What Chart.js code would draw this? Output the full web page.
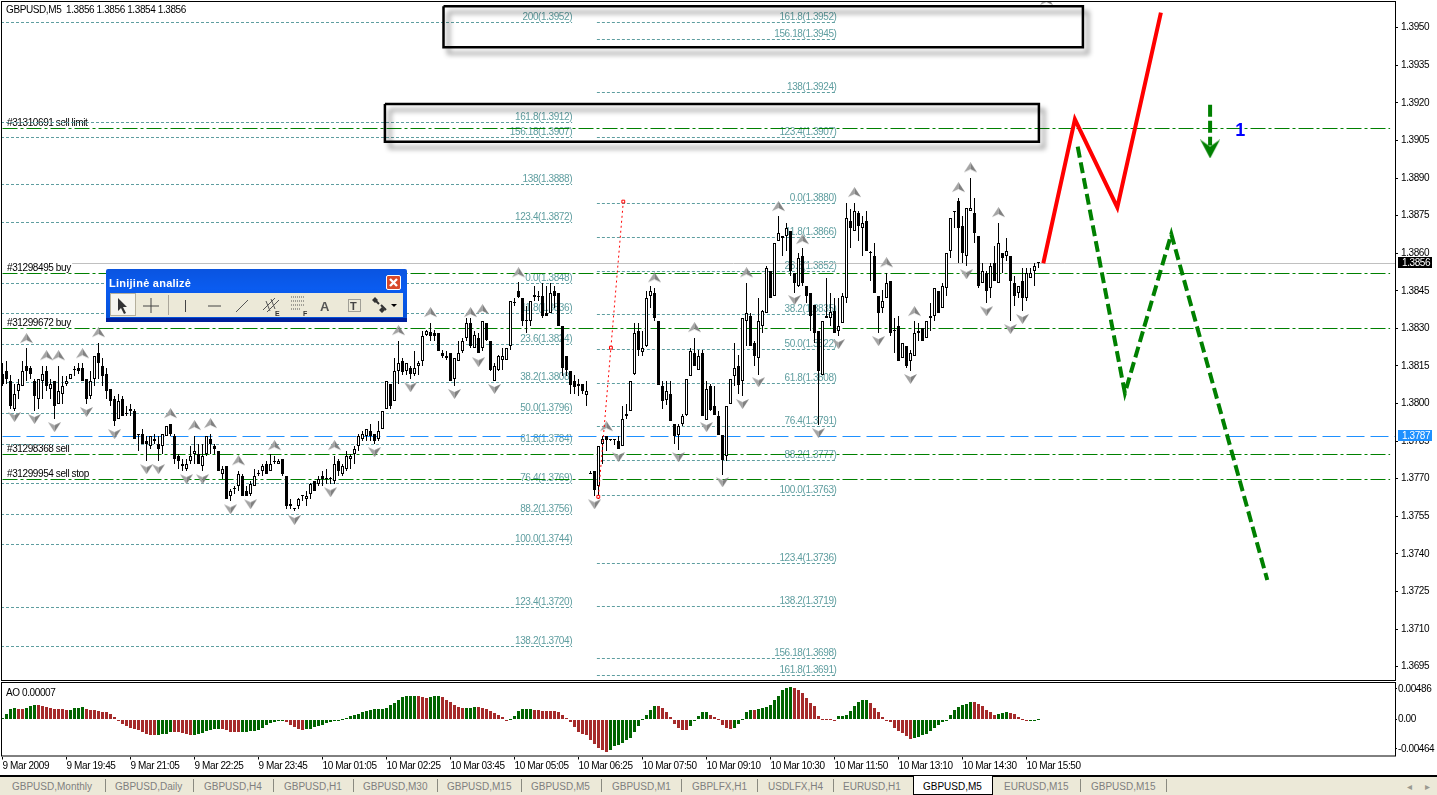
<!DOCTYPE html>
<html>
<head>
<meta charset="utf-8">
<title>GBPUSD,M5</title>
<script src="https://cdn.jsdelivr.net/npm/chart.js@4/dist/chart.umd.js"></script>
<style>
  html, body { margin: 0; padding: 0; background: #fff; overflow: hidden; }
  canvas { position: absolute; left: 0; }
  #main { top: 0; }
  #ao { top: 682px; }
  #tabs { position: absolute; left: 0; top: 775px; width: 1437px; height: 20px; background: #ece9d8; border-top: 2px solid #000; box-sizing: border-box; font: 10px "Liberation Sans", sans-serif; color: #7f7f7f; }
  #tabs span { position: absolute; top: 2px; line-height: 15px; white-space: nowrap; }
  #tabs i { position: absolute; top: 2px; width: 1px; height: 13px; background: #8a8a80; }
  #tabs b { position: absolute; left: 913px; top: -1px; width: 80px; height: 19px; background: #fff; border: 1px solid #000; border-top: 0; box-sizing: border-box; }
  #tabs span.on { color: #000; }
  #tool { position: absolute; left: 106px; top: 269px; width: 301px; height: 53px; box-sizing: border-box; border-radius: 2px 2px 0 0; background: linear-gradient(#0a54e0, #0a5cf0 40%, #0450d8 100%); border-bottom: 4px solid #00209c; }
  #tool .t { position: absolute; left: 3px; top: 8px; color: #fff; font: bold 11px "Liberation Sans", sans-serif; letter-spacing: .25px; }
  #tool .x { position: absolute; left: 280px; top: 6px; width: 15px; height: 15px; box-sizing: border-box; background: #d8492a; border: 1px solid #fff; border-radius: 2px; }
  #tool svg { position: absolute; left: 4px; top: 24px; width: 293px; height: 24px; background: #ece9d8; }
</style>
</head>
<body>
<canvas id="main" width="1437" height="681"></canvas>
<canvas id="ao" width="1437" height="93"></canvas>
<div id="tool">
  <div class="t">Linijinė analizė</div>
  <div class="x"><svg style="left:1px;top:1px;width:11px;height:11px;background:none" viewBox="0 0 11 11"><path d="M2 2L9 9M9 2L2 9" stroke="#fff" stroke-width="2.4"/></svg></div>
  <svg viewBox="0 0 293 24">
    <rect x="0.5" y="0.5" width="25" height="22" fill="#f6f5ee" stroke="#b5b09c"/>
    <path d="M8 5l0 13 3-3 3 6 2-1-3-6 4 0z" fill="#333"/>
    <path d="M41 5v15M33 13h16" stroke="#444" fill="none"/>
    <path d="M58.5 2v20" stroke="#aaa69a"/>
    <path d="M75.5 7v12" stroke="#444"/>
    <path d="M98 13h13" stroke="#444"/>
    <path d="M126 19l12-12" stroke="#555"/>
    <path d="M153 17l12-12M157 19l12-12M156 8l4 10M161 6l4 10" stroke="#555" fill="none"/>
    <text x="165" y="23" font-family="Liberation Sans" font-size="7" font-weight="bold" fill="#333">E</text>
    <path d="M181 4h13M181 8h13M181 12h13M181 16h9" stroke="#555" stroke-dasharray="1 1"/>
    <text x="193" y="23" font-family="Liberation Sans" font-size="7" font-weight="bold" fill="#333">F</text>
    <text x="210" y="18" font-family="Liberation Sans" font-size="13" font-weight="bold" fill="#555">A</text>
    <rect x="238.5" y="6.5" width="12" height="12" fill="none" stroke="#555" stroke-dasharray="1 1"/>
    <text x="240" y="17" font-family="Liberation Sans" font-size="11" font-weight="bold" fill="#444">T</text>
    <path d="M264 6l5 5M271 12l5 5" stroke="#333" stroke-width="2"/><path d="M265 4l3 3-3 3-3-3zM272 14l3 3-3 3-3-3z" fill="#333"/>
    <path d="M281 11h6l-3 3z" fill="#000"/>
  </svg>
</div>
<div id="tabs"><b></b></div>
<script>
// prices are stored as pips, price = 1 + v / 10000
const opens = [
  3812,3813,3809,3798,3805,3807,3815,3814,3809,3802,
  3809,3813,3806,3809,3800,3804,3808,3810,3813.5,3814,
  3814,3810,3803,3810,3820,3815,3812,3806,3802,3794,
  3802,3796,3797,3797,3787.5,3788,3785,3783,3786,3784,
  3783,3787,3792,3787,3779,3776,3774,3777,3780,3780,
  3775,3780,3786,3783,3781,3772,3775,3763,3766,3767,
  3771,3765,3764,3767,3772,3773,3776,3773,3776.5,3776,
  3778,3771,3760,3758,3759,3763,3762,3764,3769,3768,
  3771,3770,3770,3769,3777,3772,3774,3778,3780,3783,
  3786,3787,3789,3788,3786,3790,3798,3808,3801,3813,
  3817,3813,3814,3812,3815,3817,3827.5,3828.5,3828,3828,
  3820,3818,3820,3810,3817,3821,3826,3832,3822,3826,
  3822,3832,3825,3809,3813.5,3817.5,3817.5,3823,3840,3845,
  3842,3833,3833,3842.5,3842.5,3843,3836,3836,3845,3844,
  3831,3819,3813,3809,3808,3808,3803.5,3772,3773,3767,
  3784,3787,3786,3785.5,3785,3783,3795,3797,3812,3829,
  3820.5,3823,3843,3844,3833,3807,3801.5,3804,3792,3787.5,
  3792,3795.5,3811,3820,3813.5,3820,3793.5,3807,3799,3795,
  3787.5,3779,3800,3811,3815,3809,3833,3835,3824,3818,
  3831,3836,3853,3843,3865,3867,3867,3869,3852,3847,
  3859,3847,3844,3839.5,3829,3811.5,3834,3834,3837,3829,
  3832,3842,3873,3869,3876,3870,3873,3860,3859,3843,
  3838,3842,3849,3829,3831,3818,3823,3817,3819,3829,
  3830,3826,3835,3835,3845,3838,3846,3861,3876.5,3881,
  3871,3859,3877,3876,3867,3848,3852,3846,3856,3848,
  3860,3859,3859,3848,3844,3849,3842,3850,3853,3856
];
const highs = [
  3816,3817,3811.5,3808,3810,3817,3822,3815,3810,3810,
  3815,3815,3810,3809,3815,3811,3811,3812,3815,3816,
  3816,3810,3813,3819,3824,3818,3814,3806,3803,3804,
  3803,3799,3800,3798,3788,3790,3787,3787,3788,3787,
  3788,3791,3792,3788,3780,3778,3778,3783,3787,3784,
  3784,3787,3788,3784,3781,3775,3775,3766,3767,3773,
  3772,3767,3769,3774,3773.5,3776,3777,3780,3779,3778,
  3778,3771,3762,3758.5,3762.5,3763.5,3765,3768.5,3769,3771,
  3773,3774,3770.5,3779,3778,3776,3781,3780,3783,3788,
  3789,3790,3792,3788,3793,3797,3809,3808,3818,3825,
  3818,3816,3815,3821,3817,3829,3829.5,3832,3829.5,3828,
  3821.5,3821,3820,3818,3825,3826,3834,3834,3829,3828,
  3833,3832,3825,3816,3819.5,3822,3822,3841,3842,3848.5,
  3842,3839,3841,3847,3845,3848,3847,3848,3847,3844,
  3831,3819,3813,3811.5,3810,3808,3809,3773,3773,3783,
  3787,3787,3786,3785.5,3787,3799,3800,3809,3832,3832,
  3829,3845,3847,3846,3833,3809,3809,3809,3792,3792,
  3796,3810,3822,3826,3821.5,3821.5,3809,3808,3807,3797,
  3787.5,3799,3810,3824,3819.5,3834,3848,3836,3825,3842,
  3837.5,3855,3853,3864,3875,3867,3872,3869,3852,3860,
  3862,3847,3844,3839.5,3829,3833,3850,3844,3842,3842,
  3844,3880,3877.5,3880,3877,3875,3877,3861,3864,3843,
  3845.5,3852,3849,3834,3835,3824,3823,3821.5,3833,3832,
  3830,3833,3840,3846,3845,3848,3860,3874,3877,3882,
  3875,3878,3890,3882,3867,3856,3853,3856,3863,3872,
  3860,3866,3859,3851,3847,3854,3854,3854,3856,3856
];
const lows = [
  3807,3808,3798,3797,3802,3807,3809,3810,3797,3798,
  3802,3805,3802,3794,3800,3800,3807,3810,3811,3812,
  3809,3800,3802,3807,3810,3807,3802,3799,3791,3794,
  3795,3795,3795,3786,3781,3784,3777,3782,3784,3777,
  3780,3787,3787,3776,3774,3773,3773,3776,3776,3776,
  3773,3779,3780,3780,3773,3770,3762,3761,3764,3765,
  3763,3763,3763,3767,3771,3771,3772,3773,3776,3776,
  3771,3758,3758,3757,3758,3761,3759,3762,3765,3767,
  3767,3768,3768,3768,3771,3771,3773,3774,3776,3781,
  3785,3785,3785,3784,3785,3790,3798,3798,3801,3808,
  3811.5,3811.5,3810,3811,3811.5,3815,3827,3825,3825,3821,
  3818,3817.5,3809,3807,3817,3820,3825,3822,3822,3820,
  3821,3825,3813,3809,3813,3813.5,3817.5,3821.5,3839,3842,
  3831,3828,3831,3841,3841,3834,3835,3836,3838,3831,
  3811,3811,3804,3804,3803,3804,3799,3772,3763,3762,
  3776,3781,3785,3783.5,3782,3783,3794,3797,3811.5,3819,
  3819,3822.5,3838,3833,3807.5,3798,3799.5,3793,3784,3781.5,
  3791,3795,3811,3815,3813.5,3795,3793.5,3797,3795.5,3787.5,
  3771.5,3777,3800,3807,3804,3803,3823,3823,3815,3811.5,
  3828,3836,3842,3843,3865,3859,3861,3851,3844,3846.5,
  3847,3840,3829,3824,3791.5,3811.5,3834,3831,3828,3827,
  3832,3840,3862,3869,3865,3859,3861,3849,3844,3828,
  3836,3842,3827,3820,3817,3818,3814,3813,3819,3825,
  3825,3826,3829,3833,3836,3838,3843,3858,3870,3856,
  3856,3855,3877,3864,3846,3848,3840,3842,3849,3848,
  3852,3857,3833,3839,3842,3837,3841,3850,3847,3854
];
const closes = [
  3808,3810,3799,3804,3808,3813,3813,3812,3803,3810,
  3812,3807,3808,3799,3805,3807,3809,3812,3813.5,3813,
  3809,3802,3809,3819,3816,3811,3805,3801,3793,3801,
  3795,3796,3798,3786,3787.5,3784,3784,3787,3785,3782,
  3788,3791,3788,3778,3777,3775,3776,3779,3781,3776,
  3779,3787,3784,3782,3773,3774,3762,3765,3766,3772,
  3763,3763,3768,3771,3772,3775,3772,3776,3776.5,3777,
  3772,3759,3759,3758,3762,3763,3763,3768,3765,3770,
  3770,3770,3770,3776,3773,3775,3779,3779,3782,3787,
  3788,3790,3787,3785,3789,3797,3809,3799,3813,3816,
  3812.5,3816,3812,3814,3816,3827,3829,3827,3827,3821,
  3819,3819,3809,3818,3820,3825,3832,3823,3827.5,3820,
  3833,3825.5,3813.5,3815,3819,3819,3822,3841,3840,3842.5,
  3833,3833,3841,3843.5,3842.5,3835,3835,3844,3843,3831,
  3814,3813.5,3807.5,3806.5,3807,3805,3805,3772,3765.5,3783,
  3786,3785.5,3785.5,3785.5,3782,3794,3796,3809,3828,3821.5,
  3822,3842,3845,3834,3807.5,3801,3805,3793,3787,3791,
  3795,3810,3821,3815,3819,3795,3806,3797.5,3795.5,3787.5,
  3777.5,3799,3810,3814,3807.5,3834,3836,3823,3819,3833,
  3837,3854,3842,3864,3868,3866,3870,3853,3848,3858,
  3848,3843,3835,3828,3813,3833,3835,3836.5,3828,3831,
  3843,3874,3870,3877,3871,3872,3861,3860,3844,3836,
  3841,3848,3828,3829,3817,3824,3815,3820,3828,3828,
  3825,3833,3834,3846,3836,3847,3860,3874,3876.5,3870,
  3860,3878,3878,3868,3847,3853,3845,3855,3849,3864,
  3858,3861,3849,3843,3847,3842,3852,3852,3855,3856
];

// AO histogram, in units of 0.00001
const aoValues = [
  26,95,169,190,174,174,190,222,238,238,
  222,201,179,174,174,169,158,158,179,185,
  201,174,158,148,137,127,116,95,48,-16,
  -74,-106,-127,-143,-158,-190,-222,-243,-248,-248,
  -232,-222,-201,-195,-201,-206,-222,-248,-238,-227,
  -206,-185,-158,-148,-148,-153,-158,-190,-201,-201,
  -201,-195,-185,-174,-158,-127,-90,-58,-32,-16,
  -16,-42,-79,-116,-148,-158,-153,-143,-121,-100,
  -79,-53,-37,-26,-5,16,32,53,74,95,
  116,132,153,164,174,169,190,232,264,306,
  359,369,380,380,369,354,343,354,369,375,
  359,317,274,232,201,179,179,190,201,195,
  179,169,143,106,74,42,-11,5,53,137,
  169,174,174,158,153,143,143,143,137,127,
  74,32,-42,-116,-195,-222,-248,-317,-391,-454,
  -486,-517,-475,-422,-396,-369,-327,-285,-190,-95,
  11,74,158,222,222,179,116,42,-74,-132,
  -158,-158,-95,-11,63,116,116,79,42,11,
  -79,-132,-143,-137,-74,11,116,158,158,174,
  190,201,238,317,380,464,501,517,507,464,
  422,343,264,211,63,11,11,5,-11,63,
  63,74,137,211,274,306,306,264,190,116,
  48,-11,-42,-137,-179,-211,-264,-301,-296,-274,
  -243,-222,-185,-137,-84,-42,-11,74,148,195,
  232,253,285,274,243,211,158,116,74,84,
  106,127,106,84,42,16,-11,-21,-21,7
];
// alternating runs of rising (green) and falling (red) AO bars, green first
const aoColorRuns = [4,2,3,8,4,18,4,5,7,5,11,5,28,3,3,6,3,8,6,19,12,8,5,6,5,1,9,11,8,11,15,6,3,5,3];

const priceTicks = [1.3695,1.3710,1.3725,1.3740,1.3755,1.3770,1.3785,1.3800,1.3815,1.3830,1.3845,1.3860,1.3875,1.3890,1.3905,1.3920,1.3935,1.3950];
const aoTicks = [0.00486, 0, -0.00464];
const aoTickLabels = ["0.00486", "0.00", "-0.00464"];
const timeTickBars = [0,16,32,48,64,80,96,112,128,144,160,176,192,208,224,240,256];
const timeTickLabels = ["9 Mar 2009","9 Mar 19:45","9 Mar 21:05","9 Mar 22:25","9 Mar 23:45","10 Mar 01:05","10 Mar 02:25","10 Mar 03:45","10 Mar 05:05","10 Mar 06:25","10 Mar 07:50","10 Mar 09:10","10 Mar 10:30","10 Mar 11:50","10 Mar 13:10","10 Mar 14:30","10 Mar 15:50"];

// fibonacci levels (two groups), price in pips and the text drawn on it
const fibLeftLevels = [3952.3,3912.4,3906.4,3887.6,3872.5,3848.1,3836.1,3823.8,3808.6,3796.2,3783.8,3768.5,3756.1,3743.8,3719,3703.4];
const fibLeftLabels = ["200(1.3952)","161.8(1.3912)","156.18(1.3907)","138(1.3888)","123.4(1.3872)","0.0(1.3848)","11.8(1.3836)","23.6(1.3824)","38.2(1.3808)","50.0(1.3796)","61.8(1.3784)","76.4(1.3769)","88.2(1.3756)","100.0(1.3744)","123.4(1.3720)","138.2(1.3704)"];
const fibRightLevels = [3952.3,3945.5,3924.3,3906.4,3880,3866.5,3852.9,3835.8,3821.8,3808.2,3791,3777.4,3763.5,3736.4,3719.2,3698.5,3691.7];
const fibRightLabels = ["161.8(1.3952)","156.18(1.3945)","138(1.3924)","123.4(1.3907)","0.0(1.3880)","11.8(1.3866)","23.6(1.3852)","38.2(1.3835)","50.0(1.3822)","61.8(1.3808)","76.4(1.3791)","88.2(1.3777)","100.0(1.3763)","123.4(1.3736)","138.2(1.3719)","156.18(1.3698)","161.8(1.3691)"];

// open orders
const orderLevels = [3910,3852,3830,3780,3770];
const orderLabels = ["#31310691 sell limit","#31298495 buy","#31299672 buy","#31298368 sell","#31299954 sell stop"];
const bidLevel = 3856;
const alertLevel = 3787;

// fractal marks
const upFractalBars = [6,11,14,20,24,42,48,52,59,68,83,99,107,117,120,129,151,163,173,186,194,200,213,221,228,239,242,249,261];
const upFractalPrices = [3825.9,3819.1,3819.1,3819.9,3828.3,3796,3791.2,3792,3777.2,3783.2,3783.2,3829.1,3836.3,3836.3,3837.5,3852.2,3790.8,3850.2,3830.3,3852.2,3878.6,3865.4,3884.2,3856.2,3836.7,3886.2,3894.1,3876.2,3960.8];
const downFractalBars = [3,8,13,21,28,36,39,46,50,57,62,73,82,93,102,113,119,123,148,154,169,176,180,185,189,198,204,209,219,227,241,246,252,255];
const downFractalPrices = [3794.8,3794,3790.8,3796.8,3788,3774,3774,3770,3770,3758,3760,3753.7,3764.8,3780.8,3806.7,3804,3816.7,3806,3760,3778.8,3778.8,3790.8,3768.8,3800,3808.7,3841.5,3788.4,3823.9,3825.1,3810,3851.8,3837,3829.9,3833.9];

// hand drawn forecast
const redPathBars = [260.2,268.1,278.7,289.6];
const redPathPrices = [3856,3913.4,3878.3,3956];
const greenPathBars = [268.8,280.6,292.2,316.2];
const greenPathPrices = [3902.5,3804.2,3867.6,3729.6];
const arrowBars = [301.9,301.9];
const arrowPrices = [3919.2,3903];
const arrowHeadPrice = 3901.6;
const trendBars = [148.95,152.1,155.2];
const trendPrices = [3762.8,3822.3,3880.6];
const boxOneBars = [110.25,270.1,270.1,110.25,110.25];
const boxOnePrices = [3958.6,3958.6,3942.2,3942.2,3958.6];
const boxTwoBars = [95.6,259.1,259.1,95.6,95.6];
const boxTwoPrices = [3919.5,3919.5,3904.5,3904.5,3919.5];

const tabNames = ["GBPUSD,Monthly","GBPUSD,Daily","GBPUSD,H4","GBPUSD,H1","GBPUSD,M30","GBPUSD,M15","GBPUSD,M5","GBPUSD,M1","GBPLFX,H1","USDLFX,H4","EURUSD,H1","GBPUSD,M5","EURUSD,M15","GBPUSD,M15"];
const tabLefts = [12,115,204,284,363,447,531,612,692,768,843,923,1004,1091];
const tabSeparators = [105,193,273,353,437,521,601,681,757,833,1080,1166];
const activeTab = 11;

const FONT = '"Liberation Sans", sans-serif';
const FSIZE = 10;
const px = v => 1 + v / 10000;
const TEAL = "#5f9ea0";
const GREEN = "#008000";
const xMin = -0.375, xMax = 348.125;

function pointsOf(bars, prices) {
  return bars.map((b, i) => ({ x: b, y: px(prices[i]) }));
}
function hLine(from, to, level, color, dash, order) {
  return {
    type: "line", data: [{ x: from, y: px(level) }, { x: to, y: px(level) }],
    borderColor: color, borderWidth: 1, borderDash: dash, pointRadius: 0, order: order, snap: true
  };
}
// no extra room for tick labels, the plot has to fill the whole canvas
function fitAxis(s, size) {
  if (s.isHorizontal()) s.height = size; else s.width = size;
  s.paddingTop = s.paddingBottom = s.paddingLeft = s.paddingRight = 0;
}
// gray fractal arrow as a small canvas used for point style
function fractalGlyph(up) {
  const c = document.createElement("canvas");
  c.width = 13; c.height = 11;
  const g = c.getContext("2d");
  if (!up) { g.translate(0, 11); g.scale(1, -1); }
  g.beginPath();
  g.moveTo(6.5, 0); g.lineTo(6.5, 7); g.lineTo(0, 10); g.closePath();
  g.fillStyle = "#a4a4a4"; g.fill();
  g.beginPath();
  g.moveTo(6.5, 0); g.lineTo(13, 10); g.lineTo(6.5, 7); g.closePath();
  g.fillStyle = "#808080"; g.fill();
  return c;
}
function arrowHead() {
  const c = document.createElement("canvas");
  c.width = 20; c.height = 19;
  const g = c.getContext("2d");
  g.beginPath();
  g.moveTo(0, 0); g.lineTo(10, 7); g.lineTo(20, 0); g.lineTo(10, 19); g.closePath();
  g.fillStyle = GREEN; g.fill();
  return c;
}

// keep thin lines and candles on whole pixels, tighten the text a bit
const snapPlugin = {
  id: "snap",
  beforeDraw(chart) {
    chart.ctx.letterSpacing = "-0.4px";
  },
  afterDatasetsUpdate(chart) {
    chart.getSortedVisibleDatasetMetas().forEach(m => {
      if (m.type === "bar") {
        m.data.forEach(el => {
          el.y = Math.round(el.y);
          el.base = Math.round(el.base);
          if (el.y === el.base) el.base = el.y + 1;
        });
      } else if (chart.data.datasets[m.index].snap) {
        m.data.forEach(el => { el.y = Math.round(el.y) + 0.5; });
      }
    });
  },
  beforeDatasetDraw(chart, args) {
    const ds = chart.data.datasets[args.index];
    if (ds.boxShadow) {
      const ctx = chart.ctx;
      ctx.save();
      ctx.shadowColor = "rgba(0,0,0,0.45)";
      ctx.shadowBlur = 5;
      ctx.shadowOffsetX = 5;
      ctx.shadowOffsetY = 6;
    }
  },
  afterDatasetDraw(chart, args) {
    if (chart.data.datasets[args.index].boxShadow) chart.ctx.restore();
  }
};

const mainText = {
  id: "mainText",
  beforeDatasetsDraw(chart) {
    const ctx = chart.ctx, x = chart.scales.x, y = chart.scales.y;
    ctx.save();
    ctx.font = FSIZE + "px " + FONT;
    ctx.textBaseline = "alphabetic";
    ctx.textAlign = "right";
    ctx.fillStyle = TEAL;
    fibLeftLevels.forEach((l, i) => ctx.fillText(fibLeftLabels[i], x.getPixelForValue(142.4), y.getPixelForValue(px(l)) - 2));
    fibRightLevels.forEach((l, i) => ctx.fillText(fibRightLabels[i], x.getPixelForValue(208.5), y.getPixelForValue(px(l)) - 2));
    ctx.textAlign = "left";
    ctx.fillStyle = "#000";
    orderLevels.forEach((l, i) => ctx.fillText(orderLabels[i], 7, y.getPixelForValue(px(l)) - 2));
    ctx.fillText("GBPUSD,M5  1.3856 1.3856 1.3854 1.3856", 6, 13);
    ctx.restore();
  },
  afterDatasetsDraw(chart) {
    const ctx = chart.ctx, x = chart.scales.x, y = chart.scales.y;
    ctx.save();
    ctx.font = "bold 18px " + FONT;
    ctx.fillStyle = "#0000ff";
    ctx.textAlign = "center";
    ctx.textBaseline = "middle";
    ctx.fillText("1", x.getPixelForValue(309.4), y.getPixelForValue(px(3908.6)));
    ctx.restore();
  },
  afterDraw(chart) {
    const ctx = chart.ctx, a = chart.chartArea, y = chart.scales.y;
    ctx.save();
    ctx.strokeStyle = "#000";
    ctx.lineWidth = 1;
    ctx.strokeRect(a.left + 0.5, a.top + 0.5, a.right - a.left, a.bottom - a.top - 1);
    // price tags at the right edge
    [[bidLevel, "#000", "1.3856"], [alertLevel, "#1e90ff", "1.3787"]].forEach(t => {
      const py = Math.round(y.getPixelForValue(px(t[0])));
      ctx.fillStyle = t[1];
      ctx.fillRect(1398, py - 6, 34, 11);
      ctx.fillStyle = "#fff";
      ctx.font = FSIZE + "px " + FONT;
      ctx.textAlign = "left";
      ctx.textBaseline = "middle";
      ctx.fillText(t[2], 1402, py);
    });
    ctx.restore();
  }
};

const aoText = {
  id: "aoText",
  afterDraw(chart) {
    const ctx = chart.ctx, a = chart.chartArea;
    ctx.save();
    ctx.strokeStyle = "#000";
    ctx.strokeRect(a.left + 0.5, a.top - 0.5, a.right - a.left, a.bottom - a.top);
    ctx.fillStyle = "#000";
    ctx.font = FSIZE + "px " + FONT;
    ctx.fillText("AO 0.00007", 6, 14);
    ctx.restore();
  }
};

const bars = opens.map((o, i) => i);
const mainDatasets = [
  // horizontal levels behind everything
  ...fibLeftLevels.map(l => hLine(xMin, 142.4, l, TEAL, [3, 2], 90)),
  ...fibRightLevels.map(l => hLine(148.6, 208.5, l, TEAL, [3, 2], 90)),
  ...orderLevels.map(l => hLine(0, 346.9, l, GREEN, [15, 3, 3, 3], 80)),
  hLine(17.4, xMax, bidLevel, "#c0c0c0", [], 85),
  hLine(0, xMax, alertLevel, "#1e90ff", [18, 6], 80),
  // candles
  {
    type: "bar", order: 60, grouped: false, barThickness: 1, backgroundColor: "#000", borderWidth: 0, inflateAmount: 0,
    data: bars.map(i => ({ x: i, y: [px(lows[i]), px(highs[i])] }))
  },
  {
    type: "bar", order: 59, grouped: false, barThickness: 3, minBarLength: 1, borderColor: "#000", borderWidth: 1, borderSkipped: false, inflateAmount: 0,
    backgroundColor: bars.map(i => closes[i] > opens[i] ? "#fff" : "#000"),
    data: bars.map(i => ({ x: i, y: [px(opens[i]), px(closes[i])] }))
  },
  // fractals
  { type: "scatter", order: 50, data: pointsOf(upFractalBars, upFractalPrices), pointStyle: fractalGlyph(true), pointRadius: 6 },
  { type: "scatter", order: 50, data: pointsOf(downFractalBars, downFractalPrices), pointStyle: fractalGlyph(false), pointRadius: 6 },
  // trend line with its anchor points
  {
    type: "line", order: 40, data: pointsOf(trendBars, trendPrices), borderColor: "#ff0000", borderWidth: 1, borderDash: [2, 3],
    pointStyle: "rect", pointRadius: 2, pointBackgroundColor: "#fff", pointBorderColor: "#ff0000", pointBorderWidth: 1
  },
  // drawn forecast
  { type: "line", order: 30, data: pointsOf(redPathBars, redPathPrices), borderColor: "#ff0000", borderWidth: 4, pointRadius: 0, borderJoinStyle: "miter" },
  { type: "line", order: 30, data: pointsOf(greenPathBars, greenPathPrices), borderColor: GREEN, borderWidth: 4, borderDash: [11, 5], pointRadius: 0 },
  { type: "line", order: 30, data: pointsOf(arrowBars, arrowPrices), borderColor: GREEN, borderWidth: 4, borderDash: [12, 4], pointRadius: 0 },
  { type: "scatter", order: 29, data: [{ x: arrowBars[1], y: px(arrowHeadPrice) }], pointStyle: arrowHead(), pointRadius: 10 },
  // boxes around the target zones
  { type: "line", order: 20, data: pointsOf(boxOneBars, boxOnePrices), borderColor: "#000", borderWidth: 2.5, pointRadius: 0, borderJoinStyle: "miter", boxShadow: true },
  { type: "line", order: 20, data: pointsOf(boxTwoBars, boxTwoPrices), borderColor: "#000", borderWidth: 2.5, pointRadius: 0, borderJoinStyle: "miter", boxShadow: true }
];

new Chart(document.getElementById("main"), {
  type: "bar",
  data: { datasets: mainDatasets },
  plugins: [snapPlugin, mainText],
  options: {
    responsive: false, animation: false, events: [],
    layout: { autoPadding: false, padding: { left: 1, top: 1, right: 0, bottom: 0 } },
    plugins: { legend: { display: false }, tooltip: { enabled: false } },
    scales: {
      x: { type: "linear", display: false, offset: false, min: xMin, max: xMax, grid: { offset: false } },
      y: {
        position: "right", min: 1.368929, max: 1.396065,
        afterFit(s) { fitAxis(s, 42); },
        afterBuildTicks(s) { s.ticks = priceTicks.map(v => ({ value: v })); },
        border: { display: false },
        grid: { drawOnChartArea: false, color: "#000", tickLength: 3 },
        ticks: { autoSkip: false, padding: 3, color: "#000", font: { family: FONT, size: FSIZE }, callback: v => v.toFixed(4) }
      }
    }
  }
});

// expand the colour runs of the AO bars
const aoColors = [];
aoColorRuns.forEach((n, r) => { for (let i = 0; i < n; i++) aoColors.push(r % 2 ? "#a52a2a" : "#006400"); });

new Chart(document.getElementById("ao"), {
  type: "bar",
  data: {
    datasets: [{
      data: aoValues.map((v, i) => ({ x: i, y: v / 100000 })),
      backgroundColor: aoColors, barThickness: 3, borderWidth: 0, inflateAmount: 0, grouped: false
    }]
  },
  plugins: [snapPlugin, aoText],
  options: {
    responsive: false, animation: false, events: [],
    layout: { autoPadding: false, padding: { left: 1, top: 1, right: 0, bottom: 0 } },
    plugins: { legend: { display: false }, tooltip: { enabled: false } },
    scales: {
      x: {
        type: "linear", offset: false, min: xMin, max: xMax,
        afterFit(s) { fitAxis(s, 18.5); },
        afterBuildTicks(s) { s.ticks = timeTickBars.map(v => ({ value: v })); },
        border: { display: false },
        grid: { drawOnChartArea: false, offset: false, color: "#000", tickLength: 3 },
        ticks: {
          autoSkip: false, maxRotation: 0, minRotation: 0, align: "start", padding: 1, color: "#000",
          font: { family: FONT, size: FSIZE },
          callback: v => timeTickLabels[timeTickBars.indexOf(v)]
        }
      },
      y: {
        position: "right", min: -0.00583, max: 0.00581,
        afterFit(s) { fitAxis(s, 42); },
        afterBuildTicks(s) { s.ticks = aoTicks.map(v => ({ value: v })); },
        border: { display: false },
        grid: { drawOnChartArea: false, color: "#000", tickLength: 2 },
        ticks: { autoSkip: false, padding: 1, color: "#000", font: { family: FONT, size: FSIZE }, callback: v => aoTickLabels[aoTicks.indexOf(v)] }
      }
    }
  }
});

// tab strip
const tabsEl = document.getElementById("tabs");
tabNames.forEach((n, i) => {
  const s = document.createElement("span");
  s.textContent = n;
  s.style.left = tabLefts[i] + "px";
  if (i === activeTab) s.className = "on";
  tabsEl.appendChild(s);
});
tabSeparators.forEach(x => {
  const d = document.createElement("i");
  d.style.left = x + "px";
  tabsEl.appendChild(d);
});
["◂", "▸"].forEach((c, i) => {
  const s = document.createElement("span");
  s.textContent = c;
  s.style.left = (1407 + i * 18) + "px";
  s.style.color = "#9a9a90";
  tabsEl.appendChild(s);
});
</script>
</body>
</html>
